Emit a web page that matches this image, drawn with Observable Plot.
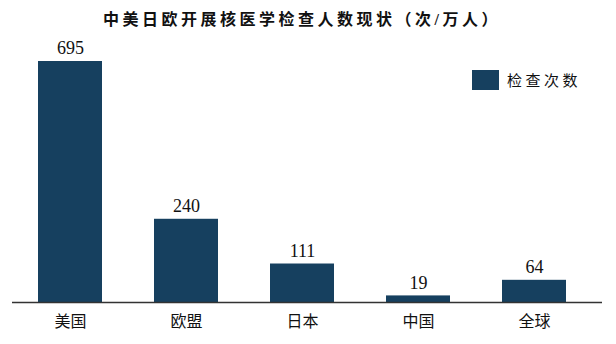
<!DOCTYPE html>
<html>
<head>
<meta charset="utf-8">
<script src="https://cdn.jsdelivr.net/npm/d3@7"></script>
<script src="https://cdn.jsdelivr.net/npm/@observablehq/plot@0.6"></script>
<style>
  body { margin: 0; background: #fff; font-family: "Liberation Serif", "Noto Sans CJK SC", serif; }
  #wrap { position: relative; width: 616px; height: 344px; }
  #title { position: absolute; left: 0; top: 8px; width: 604px; text-align: center; font-size: 16px; font-weight: bold; letter-spacing: 3.5px; color: #111; line-height: 24px; z-index: 2; }
  #legend { position: absolute; left: 472px; top: 69px; display: flex; align-items: center; font-size: 15px; letter-spacing: 3.5px; color: #111; z-index: 2; }
  #legend .sw { width: 27px; height: 20px; background: #16405f; margin-right: 8px; }
  #chart { position: absolute; left: 0; top: 0; }
</style>
</head>
<body>
<div id="wrap">
  <div id="chart"></div>
  <div id="title">中美日欧开展核医学检查人数现状（次/万人）</div>
  <div id="legend"><div class="sw"></div><span id="legendLabel"></span></div>
</div>
<script>
const categories = ["美国", "欧盟", "日本", "中国", "全球"];
const values = [695, 240, 111, 19, 64];
const seriesName = "检查次数";

const data = categories.map((c, i) => ({ region: c, value: values[i] }));
document.getElementById("legendLabel").textContent = seriesName;

const chart = Plot.plot({
  width: 616,
  height: 344,
  marginLeft: 12,
  marginRight: 14,
  marginTop: 61,
  marginBottom: 42,
  style: { fontFamily: '"Liberation Serif", "Noto Sans CJK SC", serif', background: "transparent", color: "#111" },
  x: { domain: categories, paddingInner: 0.45, paddingOuter: 0.268, align: 0.418, label: null },
  y: { domain: [0, 695], axis: null },
  marks: [
    Plot.barY(data, { x: "region", y: "value", fill: "#16405f" }),
    Plot.text(data, { x: "region", y: "value", text: d => String(d.value), dy: -13, fontSize: 18, fill: "#111" }),
    Plot.ruleY([0], { stroke: "#333", strokeWidth: 1.5 }),
    Plot.axisX({ tickSize: 0, tickPadding: 13, fontSize: 16, style: { letterSpacing: "3px" } })
  ]
});
document.getElementById("chart").appendChild(chart);
</script>
</body>
</html>
